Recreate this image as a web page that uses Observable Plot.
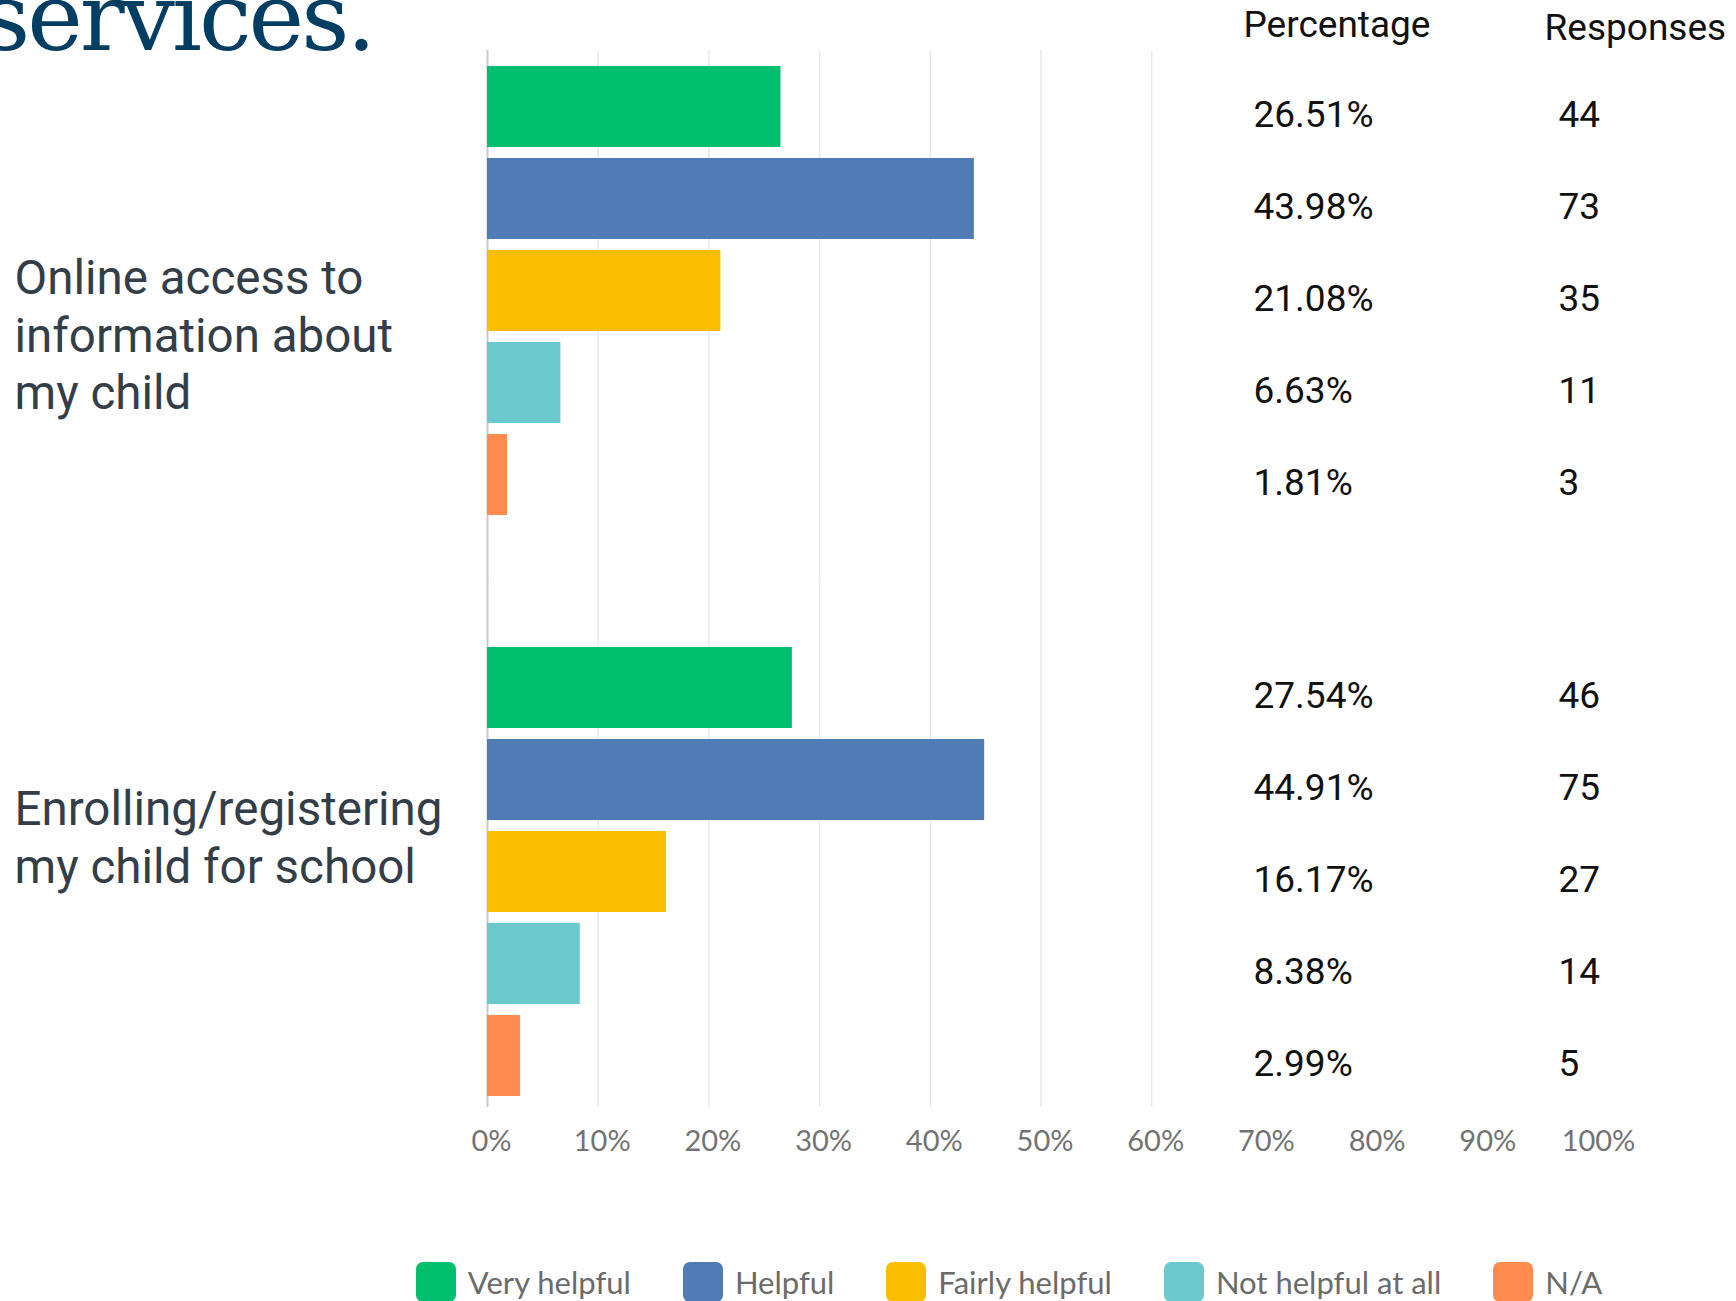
<!DOCTYPE html>
<html>
<head>
<meta charset="utf-8">
<script src="https://cdn.jsdelivr.net/npm/d3@7"></script>
<script src="https://cdn.jsdelivr.net/npm/@observablehq/plot@0.6"></script>
<style>
  html, body { margin: 0; padding: 0; background: #fff; }
  #wrap { position: relative; width: 1736px; height: 1301px; overflow: hidden; background: #fff; }
  #title { position: absolute; left: -18px; top: -29px; font-family: "DejaVu Serif", serif; font-size: 94px; line-height: 94px; letter-spacing: -3px; color: #023e64; white-space: nowrap; }
  #chart { position: absolute; left: 0; top: 0; }
  #legend { position: absolute; left: 0; top: 1262px; width: 1736px; }
  #legend .lg-swatches { justify-content: center !important; margin-left: 282px !important; font-family: Lato, sans-serif !important; font-size: 31px !important; color: #6b6b6b !important; line-height: 40px !important; min-height: 40px !important; }
  #legend .lg-swatch { margin-right: 52px !important; }
  #legend .lg-swatch:last-child { margin-right: 0 !important; }
  #legend .lg-swatch > svg { margin-right: 12px !important; }
  #legend .lg-swatch > svg rect { rx: 7px; ry: 7px; }
</style>
</head>
<body>
<div id="wrap">
  <div id="chart"></div>
  <div id="title">services.</div>
  <div id="legend"></div>
</div>
<script>
// ---- data ----
const answers = ["Very helpful", "Helpful", "Fairly helpful", "Not helpful at all", "N/A"];
const answerColors = ["#00bf6f", "#507cb6", "#f9be00", "#6bc8cd", "#ff8b4f"];
const questions = ["Online access to\ninformation about\nmy child", "Enrolling/registering\nmy child for school"];
const pctOnline = [26.51, 43.98, 21.08, 6.63, 1.81];
const respOnline = [44, 73, 35, 11, 3];
const pctEnroll = [27.54, 44.91, 16.17, 8.38, 2.99];
const respEnroll = [46, 75, 27, 14, 5];
const xTicks = [0, 10, 20, 30, 40, 50, 60, 70, 80, 90, 100];
const gridTicks = [10, 20, 30, 40, 50, 60];
const headers = ["Percentage", "Responses"];

const rows = [];
answers.forEach((a, i) => rows.push({question: questions[0], answer: a, pct: pctOnline[i], resp: respOnline[i]}));
answers.forEach((a, i) => rows.push({question: questions[1], answer: a, pct: pctEnroll[i], resp: respEnroll[i]}));

const first = () => questions[0];
const last = () => questions[1];

const H = 1200;
const chart = Plot.plot({
  width: 1736,
  height: H,
  marginLeft: 487,
  marginRight: 142,
  marginTop: 50,
  marginBottom: H - 1107,
  style: {fontFamily: "Roboto, sans-serif", background: "transparent", overflow: "visible"},
  x: {domain: [0, 100], axis: null},
  y: {domain: answers, paddingInner: 0.118, paddingOuter: 0, axis: null},
  fy: {domain: questions, paddingInner: 0.21859, paddingOuter: 0.018933, align: 0.6364, axis: null},
  color: {domain: answers, range: answerColors},
  marks: [
    // grid + zero line, continuous through both groups
    Plot.ruleX(gridTicks, {x: d => d, fy: first, stroke: "#e9e9e9", strokeWidth: 1.5, insetTop: -14, insetBottom: -64}),
    Plot.ruleX(gridTicks, {x: d => d, fy: last, stroke: "#e9e9e9", strokeWidth: 1.5, insetTop: -64, insetBottom: -8}),
    Plot.ruleX([0], {x: d => d, fy: first, stroke: "#c9c9c9", strokeWidth: 2, insetTop: -14, insetBottom: -64}),
    Plot.ruleX([0], {x: d => d, fy: last, stroke: "#c9c9c9", strokeWidth: 2, insetTop: -64, insetBottom: -8}),
    Plot.barX(rows, {x: "pct", y: "answer", fy: "question", fill: "answer"}),
    Plot.text(rows, {y: "answer", fy: "question", text: d => d.pct.toFixed(2) + "%", frameAnchor: "right", textAnchor: "start", dx: -341, dy: 8, fontSize: 37, fill: "#111"}),
    Plot.text(rows, {y: "answer", fy: "question", text: d => String(d.resp), frameAnchor: "right", textAnchor: "start", dx: -36, dy: 8, fontSize: 37, fill: "#111"}),
    Plot.text([questions[0]], {fy: d => d, text: d => d, frameAnchor: "left", textAnchor: "start", dx: -473, dy: 42, fontSize: 47.5, lineHeight: 1.21, fill: "#333e48"}),
    Plot.text([questions[1]], {fy: d => d, text: d => d, frameAnchor: "left", textAnchor: "start", dx: -473, dy: -37, fontSize: 47.5, lineHeight: 1.21, fill: "#333e48"}),
    Plot.text([headers[0]], {text: d => d, frameAnchor: "top-right", textAnchor: "start", dx: -351, dy: -54, fontSize: 37, fill: "#111", facet: "super"}),
    Plot.text([headers[1]], {text: d => d, frameAnchor: "top-right", textAnchor: "start", dx: -50, dy: -51, fontSize: 37, fill: "#111", facet: "super"}),
    Plot.text(xTicks, {x: d => d, fy: last, text: d => d + "%", frameAnchor: "bottom", dy: 51, dx: 4, fontSize: 29, fontFamily: "Lato, sans-serif", fill: "#737373"})
  ]
});
document.getElementById("chart").appendChild(chart);

const legend = Plot.legend({
  color: {domain: answers, range: answerColors},
  legend: "swatches",
  swatchSize: 40,
  className: "lg"
});
document.getElementById("legend").appendChild(legend);
</script>
</body>
</html>
